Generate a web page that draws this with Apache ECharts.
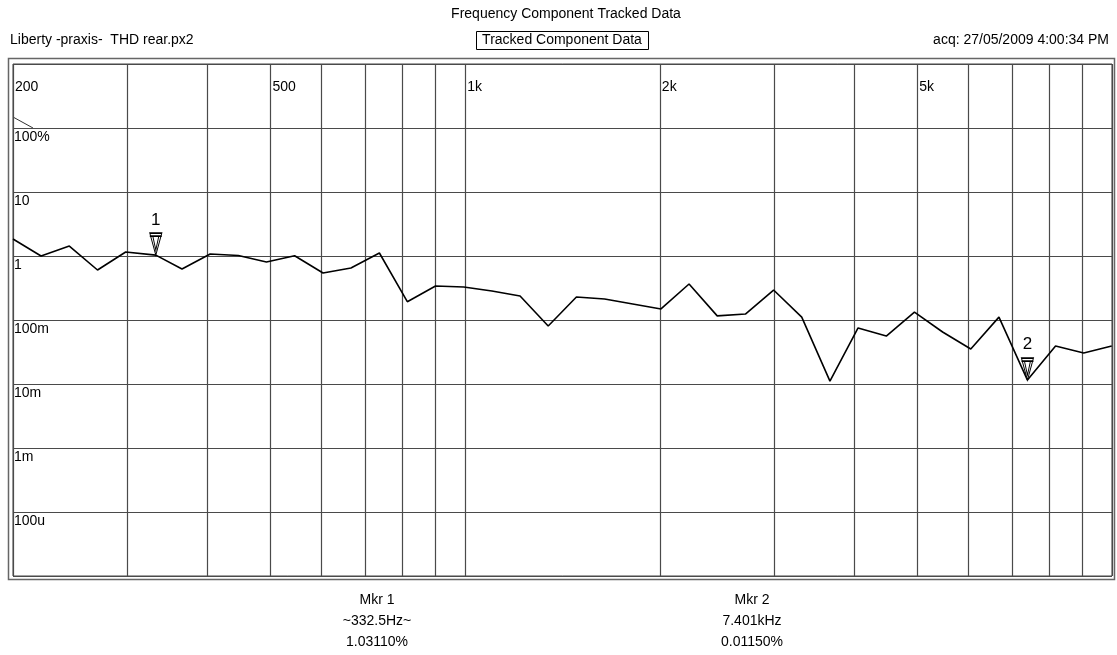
<!DOCTYPE html>
<html lang="en">
<head>
    <meta charset="UTF-8">
    <script src="https://cdn.jsdelivr.net/npm/echarts@6/dist/echarts.min.js"></script>
    <style>
        html, body {
            margin: 0;
            padding: 0;
            background: #ffffff;
        }

        #thd_chart {
            width: 1117px;
            height: 655px;
        }
    </style>
</head>
<body>
<div id="thd_chart"></div>
</body>
<script type="text/javascript">
    // frequency (Hz) of each tracked point
    const freqs = [200, 221, 244.4, 270.2, 298.7, 332.5, 365, 403.5, 446, 493,
        545, 603, 666, 737, 814, 900, 995, 1100, 1216, 1344,
        1486, 1643, 1816, 2008, 2219, 2453, 2712, 2998, 3314, 3664,
        4050, 4478, 4950, 5472, 6049, 6687, 7401, 8180, 9043, 9990]
    // THD in percent
    const thd = [1.84, 1.0, 1.43, 0.604, 1.155, 1.0311, 0.626, 1.075, 1.018, 0.806,
        1.01, 0.542, 0.649, 1.114, 0.193, 0.340, 0.328, 0.284, 0.237, 0.0806,
        0.229, 0.213, 0.178, 0.149, 0.365, 0.116, 0.124, 0.294, 0.111, 0.0111,
        0.075, 0.0562, 0.133, 0.065, 0.0352, 0.111, 0.0115, 0.0392, 0.0305, 0.0392]

    const gridFreqs = [200, 300, 400, 500, 600, 700, 800, 900, 1000,
        2000, 3000, 4000, 5000, 6000, 7000, 8000, 9000, 10000]
    const labelFreqs = [200, 500, 1000, 2000, 5000]
    const freqLabels = ['200', '500', '1k', '2k', '5k']
    const levelExp = [2, 1, 0, -1, -2, -3, -4]
    const levelLabels = ['100%', '10', '1', '100m', '10m', '1m', '100u']

    const markerFreqs = [332.5, 7401]
    const markerValues = [1.0311, 0.0115]
    const markerNames = ['1', '2']

    const FONT = '"Liberation Sans", Arial, sans-serif'

    const thd_chart = echarts.init(document.getElementById('thd_chart'));

    function freqLabel(v) {
        for (let i = 0; i < labelFreqs.length; i++) {
            if (Math.abs(v - labelFreqs[i]) < 1) return freqLabels[i]
        }
        return ''
    }

    function levelLabel(v) {
        const e = Math.round(Math.log10(v))
        const i = levelExp.indexOf(e)
        return i < 0 ? '' : levelLabels[i]
    }

    function text(t, x, y, align) {
        return {
            type: 'text',
            silent: true,
            style: {
                text: t, x: x, y: y,
                font: '14px ' + FONT,
                fill: '#000',
                textAlign: align,
                textVerticalAlign: 'middle'
            }
        }
    }

    const markerData = markerFreqs.map(function (f, i) {
        return {coord: [f, markerValues[i]], value: markerNames[i]}
    })

    thd_chart.setOption({
        animation: false,
        backgroundColor: '#ffffff',
        textStyle: {fontFamily: FONT},
        grid: {
            left: 13, right: 5, top: 64, bottom: 79,
            show: true,
            borderColor: '#444',
            borderWidth: 1
        },
        xAxis: {
            type: 'log',
            logBase: 10,
            min: 200,
            max: 10000,
            position: 'top',
            axisLine: {show: false},
            axisTick: {show: false, customValues: gridFreqs},
            axisLabel: {
                inside: true,
                customValues: labelFreqs,
                formatter: freqLabel,
                align: 'left',
                verticalAlign: 'middle',
                margin: 23,
                padding: [0, 0, 0, 2],
                fontSize: 14,
                color: '#000'
            },
            splitLine: {show: true, lineStyle: {color: '#4a4a4a', width: 1.2}}
        },
        yAxis: {
            type: 'log',
            logBase: 10,
            min: 1e-5,
            max: 1e3,
            splitNumber: 8,
            axisLine: {show: false},
            axisTick: {show: false},
            axisLabel: {
                inside: true,
                formatter: levelLabel,
                showMinLabel: false,
                showMaxLabel: false,
                align: 'left',
                verticalAlign: 'top',
                margin: 1,
                padding: [2, 0, 0, 0],
                fontSize: 14,
                color: '#000'
            },
            splitLine: {show: true, lineStyle: {color: '#4a4a4a', width: 1.2}}
        },
        series: [
            {
                name: 'THD',
                type: 'line',
                data: freqs.map(function (f, i) { return [f, thd[i]] }),
                symbol: 'none',
                lineStyle: {color: '#000', width: 1.6},
                markPoint: {
                    symbol: 'path://M0,0 L12,0 L6,22 Z M0,3 L12,3 M3,3 L6,17 L9,3',
                    symbolSize: [12, 22],
                    symbolOffset: [0, -11],
                    itemStyle: {color: '#fff', borderColor: '#000', borderWidth: 1.2},
                    label: {
                        show: true,
                        position: 'top',
                        distance: 4,
                        formatter: '{c}',
                        fontSize: 17,
                        color: '#000'
                    },
                    data: markerData
                }
            }
        ],
        graphic: [
            text('Frequency Component Tracked Data', 566, 14, 'center'),
            text('Liberty -praxis-  THD rear.px2', 10, 40, 'left'),
            text('Tracked Component Data', 562, 40, 'center'),
            text('acq: 27/05/2009 4:00:34 PM', 1109, 40, 'right'),
            {
                type: 'rect', silent: true,
                shape: {x: 476.5, y: 31.5, width: 172, height: 18},
                style: {fill: 'none', stroke: '#000', lineWidth: 1}
            },
            {
                type: 'rect', silent: true,
                shape: {x: 8.5, y: 58.5, width: 1106, height: 521},
                style: {fill: 'none', stroke: '#666', lineWidth: 1.5}
            },
            {
                type: 'line', silent: true,
                shape: {x1: 13, y1: 117, x2: 33, y2: 128},
                style: {stroke: '#333', lineWidth: 1}
            },
            text('Mkr 1', 377, 600, 'center'),
            text('~332.5Hz~', 377, 621, 'center'),
            text('1.03110%', 377, 642, 'center'),
            text('Mkr 2', 752, 600, 'center'),
            text('7.401kHz', 752, 621, 'center'),
            text('0.01150%', 752, 642, 'center')
        ]
    });
</script>
</html>
